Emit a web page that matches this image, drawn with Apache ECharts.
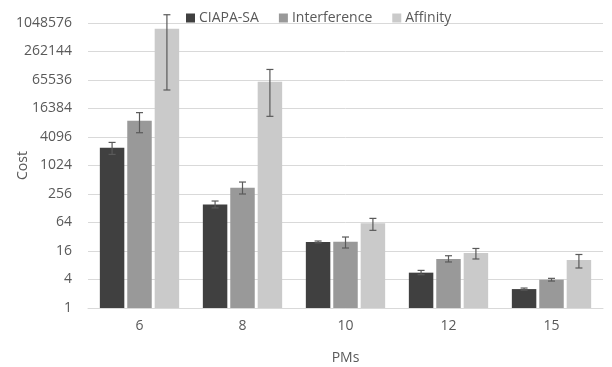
<!DOCTYPE html>
<html>
<head>
<meta charset="utf-8">
<script src="https://cdn.jsdelivr.net/npm/echarts@6/dist/echarts.min.js"></script>
<style>html,body{margin:0;padding:0;background:#fff;}#c{width:612px;height:367px;}</style>
</head>
<body>
<div id="c"></div>
<script>
const categories = ['6', '8', '10', '12', '15'];
const seriesNames = ['CIAPA-SA', 'Interference', 'Affinity'];
const ciapa = [2435, 154, 24.8, 5.58, 2.51];
const ciapaLow = [1758, 130, 23.8, 5.06, 2.39];
const ciapaHigh = [3148, 182, 26.0, 6.23, 2.64];
const interference = [9030, 347, 25.1, 10.85, 3.97];
const interferenceLow = [5043, 256, 18.5, 9.38, 3.71];
const interferenceHigh = [13400, 458, 31.6, 12.7, 4.23];
const affinity = [794800, 60300, 61.4, 14.5, 10.3];
const affinityLow = [40300, 11190, 43.7, 10.85, 7.0];
const affinityHigh = [1567600, 109450, 78.2, 18.1, 13.5];
const yTicks = [1, 4, 16, 64, 256, 1024, 4096, 16384, 65536, 262144, 1048576];

const colors = ['#404040', '#999999', '#cacaca'];
const values = [ciapa, interference, affinity];
const lows = [ciapaLow, interferenceLow, affinityLow];
const highs = [ciapaHigh, interferenceHigh, affinityHigh];
const catGap = 0.23, barGapRatio = 0.12;
const font = '"Open Sans", "Liberation Sans", sans-serif';

const series = [];
seriesNames.forEach((n, i) => {
  series.push({
    name: n, type: 'bar', data: values[i],
    barCategoryGap: (catGap * 100) + '%', barGap: (barGapRatio * 100) + '%',
    itemStyle: { color: colors[i] }
  });
});
seriesNames.forEach((n, i) => {
  series.push({
    name: n + ' err', type: 'custom', clip: false, z: 5,
    encode: { x: 0, y: [1, 2] },
    data: categories.map((c, k) => [k, lows[i][k], highs[i][k]]),
    renderItem: function (params, api) {
      const band = api.size([1, 1])[0];
      const w = band * (1 - catGap) / (3 + 2 * barGapRatio);
      const off = (i - 1) * w * (1 + barGapRatio);
      const lo = api.coord([api.value(0), api.value(1)]);
      const hi = api.coord([api.value(0), api.value(2)]);
      const x = lo[0] + off;
      const cap = 3.5;
      const st = { stroke: '#5a5a5a', lineWidth: 1.2 };
      return {
        type: 'group', children: [
          { type: 'line', shape: { x1: x, y1: lo[1], x2: x, y2: hi[1] }, style: st },
          { type: 'line', shape: { x1: x - cap, y1: lo[1], x2: x + cap, y2: lo[1] }, style: st },
          { type: 'line', shape: { x1: x - cap, y1: hi[1], x2: x + cap, y2: hi[1] }, style: st }
        ]
      };
    }
  });
});

const chart = echarts.init(document.getElementById('c'), null, { renderer: 'canvas' });
chart.setOption({
  animation: false,
  backgroundColor: '#fff',
  textStyle: { fontFamily: font },
  grid: { left: 88, right: 9, top: 23, bottom: 59, outerBoundsMode: 'none', containLabel: false },
  legend: {
    data: seriesNames, top: 6, left: 181,
    icon: 'rect', itemWidth: 9, itemHeight: 9, itemGap: 20,
    textStyle: { fontSize: 14, color: '#595959', fontFamily: font, padding: [0, 0, 0, -1] }
  },
  xAxis: {
    type: 'category', data: categories,
    name: 'PMs', nameLocation: 'middle', nameGap: 43, nameMoveOverlap: false,
    nameTextStyle: { fontSize: 14, color: '#595959' },
    axisLine: { lineStyle: { color: '#d9d9d9', width: 1 } },
    axisTick: { show: false },
    axisLabel: { fontSize: 14, color: '#595959', margin: 11 }
  },
  yAxis: {
    type: 'log', logBase: 4, min: yTicks[0], max: yTicks[yTicks.length - 1], interval: 1,
    name: 'Cost', nameLocation: 'middle', nameGap: 58, nameMoveOverlap: false,
    nameTextStyle: { fontSize: 14, color: '#595959' },
    axisLine: { show: false }, axisTick: { show: false },
    splitLine: { lineStyle: { color: '#d9d9d9', width: 1 } },
    axisLabel: { fontSize: 14, color: '#595959', margin: 16, formatter: v => String(Math.round(v)) }
  },
  series: series
});
</script>
</body>
</html>
